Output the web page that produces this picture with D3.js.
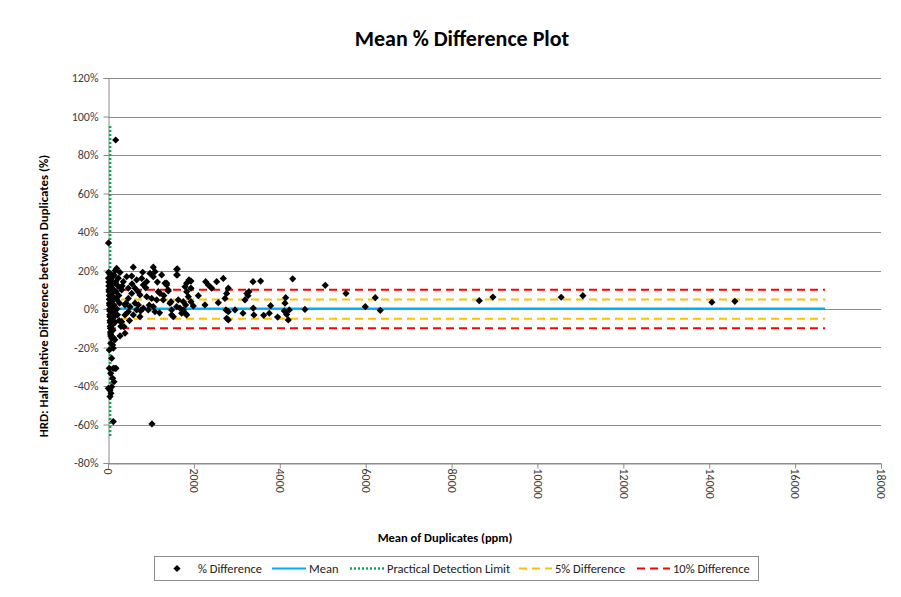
<!DOCTYPE html>
<html>
<head>
<meta charset="utf-8">
<script src="https://cdn.jsdelivr.net/npm/d3@7/dist/d3.min.js"></script>
<style>
  html, body { margin: 0; padding: 0; background: #fff; }
  svg { display: block; font-family: Carlito, Calibri, Lato, "Open Sans", sans-serif; }
</style>
</head>
<body>
<svg id="chart" width="901" height="597"></svg>
<script>
// Mean of duplicate pair (ppm)
const meanPpm = [
  179, 12, 123, 1024, 30, 109, 86, 30, 123, 186, 63, 140, 109, 7, 47, 70, 86, 47, 123, 280, 63, 123, 163,
  12, 20, 25, 30, 35, 40, 45, 50, 55, 60, 18, 22, 28, 33, 38, 42, 48, 52, 58, 65,
  70, 75, 80, 85, 90, 95, 100, 105, 110, 115, 120, 125, 130, 135, 140, 145, 150, 160,
  170, 180, 190, 200, 210, 220, 230, 240, 250, 260, 270, 280, 290, 300, 15, 65, 88, 160, 202, 140, 47,
  589, 1055, 1599, 1599, 808, 978, 1094, 1055, 901, 785, 822, 667, 629, 552, 435, 357, 318, 473, 552, 473,
  396, 512, 629, 667, 589, 473, 745, 396, 318, 372, 396, 1134, 1017, 1171, 1211, 1055, 1094, 938, 1287,
  1327, 1366, 1250, 1443, 1482, 1521, 745, 901, 822, 706,
  330, 420, 500, 560, 700, 760, 880, 960, 1150, 1200, 1300, 1400,
  1614, 1614, 1366, 1404, 1467, 1482, 1599, 1676, 1715, 1637, 1793, 1832, 1886, 1932, 1870, 1932, 1808,
  1754, 1832, 2103, 2258, 2274, 2335, 2414, 2530, 2685, 2801, 2763, 2724, 2747, 2763, 2957, 1932, 1832,
  1754, 1816, 1986, 2568, 2801, 2801,
  3143, 3189, 3236, 3282, 3260, 3376, 3554, 3383, 3399, 3625, 3756, 3787, 3950, 4105, 4137, 4121, 4160,
  4198, 4221, 4300, 4586,
  5059, 5541, 5991, 6224, 6340, 8645, 8963, 10553, 11058, 14061, 14597
];

// Half relative difference of each pair (%)
const pctDiff = [
  87.8, 34.3, -58.5, -59.7, -21.3, -18.7, -25.6, -30.8, -30.8, -30.8, -33.4, -37.8, -36.0, -41.2, -42.1, -43.8, -40.4, -45.5, -14.9, -14.0, -17.8, -20.4, -30.8,
  16, 12, 9, 5, 2, -1, -4, -7, -10, -13, 14, 10, 7, 3, 0, -3, -6, -9, -12, -14,
  18, 15, 11, 8, 4, 1, -2, -5, -8, -11, 17, 13, 10, 6, 2, -1, -4, -7,
  20, 14, 9, 5, 0, -3, 12, 16, 7, -6, 3, 19, 11, -9, 19, 0, -15, -16, 21.1, 17.7, 18,
  21.7, 21.7, 20.6, 17.7, 19.1, 18.5, 19.4, 16.8, 14.2, 15.9, 12.5, 15.1, 10.8, 17.1, 16.8, 14.2, 9.9, 10.8, 8.1, 5.5,
  2.1, 1.2, 3.0, -0.5, -3.1, -1.4, -4.0, -3.1, -6.6, -9.2, -12.6, 4.7, 5.5, 9.0, 8.1, 1.2, -1.4, -0.5, 4.7,
  13.4, 12.5, 17.7, 3.0, -0.5, -4.0, 7.3, 6.4, 0.4, 2.1,
  12, 3, -6, 13, 9, -1, 11, 2, 14, -2, 7, 10,
  20.8, 17.7, 13.4, 9.4, 3.8, -3.1, 1.2, 0.4, -2.2, 4.7, 11.6, 13.4, 15.1, 10.8, 6.4, 3.8, 2.1,
  -0.5, -3.1, 6.9, 2.1, 14.2, 12.5, 10.8, 14.2, 15.9, 10.8, 8.1, 5.5, -0.5, -4.8, -0.5, 14.5, 9.0,
  3.8, -2.6, 1.6, 3.3, -1.4, -5.7,
  -2.2, 4.7, 8.1, 9.0, 6.9, 14.2, 14.5, 0.4, -3.1, -3.3, -2.2, 1.7, -4.2, -1.0, 5.9, 3.0, -2.8,
  -5.7, -0.5, 15.7, -0.2,
  12.3, 8.1, 1.2, 5.9, -0.7, 4.3, 6.2, 6.1, 6.9, 3.5, 4.0
];

// Reference lines
const meanValue = 0.2;                 // mean % difference
const refLineExtent = [0, 16700];      // x-extent of horizontal reference lines (ppm)
const detectionLimit = 50;             // practical detection limit (ppm)
const detectionLimitSpan = [-66, 96];  // vertical extent of the detection-limit line (%)
const diffLevels5 = [5, -5];
const diffLevels10 = [10, -10];

const xTicks = [0, 2000, 4000, 6000, 8000, 10000, 12000, 14000, 16000, 18000];
const yTicks = [-80, -60, -40, -20, 0, 20, 40, 60, 80, 100, 120];

const legendLabels = ["% Difference", "Mean", "Practical Detection Limit", "5% Difference", "10% Difference"];

const colors = {
  point: "#000000",
  mean: "#00B0F0",
  pdl: "#00B050",
  five: "#FFC000",
  ten: "#FF0000",
  grid: "#8C8C8C",
  axis: "#8C8C8C",
  tick: "#404040"
};

const svg = d3.select("#chart");
const plot = { left: 108, right: 881, top: 78, bottom: 463 };

const x = d3.scaleLinear().domain([0, 18000]).range([plot.left, plot.right]);
const y = d3.scaleLinear().domain([-80, 120]).range([plot.bottom, plot.top]);

// Title
svg.append("text")
  .attr("x", 462).attr("y", 46)
  .attr("text-anchor", "middle")
  .attr("font-size", 22).attr("font-weight", "bold")
  .attr("fill", "#000")
  .text("Mean % Difference Plot");

// Horizontal gridlines
svg.append("g")
  .selectAll("line")
  .data(yTicks)
  .join("line")
  .attr("x1", plot.left).attr("x2", plot.right)
  .attr("y1", d => Math.round(y(d)) + 0.5).attr("y2", d => Math.round(y(d)) + 0.5)
  .attr("stroke", colors.grid).attr("stroke-width", 1);

// Y axis
const yAxis = svg.append("g")
  .attr("transform", `translate(${plot.left + 0.5},0)`)
  .call(d3.axisLeft(y).tickValues(yTicks).tickSize(5).tickPadding(5).tickFormat(d => d + "%"));
yAxis.select(".domain").attr("stroke", colors.axis);
yAxis.selectAll(".tick line").attr("stroke", colors.axis);
yAxis.selectAll(".tick text")
  .attr("fill", colors.tick).attr("font-size", 12)
  .attr("font-family", "Carlito, Calibri, Lato, sans-serif");

// X axis with vertical tick labels
const xAxis = svg.append("g")
  .attr("transform", `translate(0,${plot.bottom + 0.5})`)
  .call(d3.axisBottom(x).tickValues(xTicks).tickSize(5).tickFormat(d => String(d)));
xAxis.select(".domain").attr("stroke", colors.axis);
xAxis.selectAll(".tick line").attr("stroke", colors.axis);
xAxis.selectAll(".tick text")
  .attr("fill", colors.tick).attr("font-size", 12)
  .attr("font-family", "Carlito, Calibri, Lato, sans-serif")
  .attr("text-anchor", "start")
  .attr("transform", "rotate(90)")
  .attr("x", 5).attr("y", 0).attr("dy", "0.35em");

// Axis titles
svg.append("text")
  .attr("x", 445).attr("y", 542)
  .attr("text-anchor", "middle")
  .attr("font-size", 12.5).attr("font-weight", "bold")
  .text("Mean of Duplicates (ppm)");

svg.append("text")
  .attr("transform", "translate(48,296) rotate(-90)")
  .attr("text-anchor", "middle")
  .attr("font-size", 12.8).attr("font-weight", "bold")
  .text("HRD: Half Relative Difference between Duplicates (%)");

// Reference lines
const refs = svg.append("g");
function hLine(v, color, dash) {
  refs.append("line")
    .attr("x1", x(refLineExtent[0])).attr("x2", x(refLineExtent[1]))
    .attr("y1", y(v)).attr("y2", y(v))
    .attr("stroke", color).attr("stroke-width", 2)
    .attr("stroke-dasharray", dash);
}
diffLevels10.forEach(v => hLine(v, colors.ten, "8,5"));
diffLevels5.forEach(v => hLine(v, colors.five, "8,5"));
hLine(meanValue, colors.mean, null);

refs.append("line")
  .attr("x1", x(detectionLimit)).attr("x2", x(detectionLimit))
  .attr("y1", y(detectionLimitSpan[0])).attr("y2", y(detectionLimitSpan[1]))
  .attr("stroke", colors.pdl).attr("stroke-width", 2.5)
  .attr("stroke-dasharray", "2,2");

// Data points as diamonds
const diamond = d3.symbol().type(d3.symbolSquare).size(26);
const points = meanPpm.map((m, i) => ({ m, p: pctDiff[i] }));
svg.append("g")
  .selectAll("path")
  .data(points)
  .join("path")
  .attr("d", diamond)
  .attr("transform", d => `translate(${x(d.m)},${y(d.p)}) rotate(45)`)
  .attr("fill", colors.point);

// Legend
const legend = svg.append("g");
legend.append("rect")
  .attr("x", 154.5).attr("y", 556.5).attr("width", 604).attr("height", 24)
  .attr("fill", "#fff").attr("stroke", "#8C8C8C");

const ly = 568.5;
const legendItems = [
  { kind: "point", x0: 177, tx: 198 },
  { kind: "line", color: colors.mean, dash: null, x0: 272, x1: 306, tx: 309, w: 2 },
  { kind: "line", color: colors.pdl, dash: "2,2", x0: 350, x1: 384, tx: 387, w: 2.5 },
  { kind: "line", color: colors.five, dash: "8,5", x0: 519, x1: 552, tx: 555, w: 2 },
  { kind: "line", color: colors.ten, dash: "8,5", x0: 637, x1: 670, tx: 673, w: 2 }
];
legendItems.forEach((it, i) => {
  if (it.kind === "point") {
    legend.append("path").attr("d", diamond)
      .attr("transform", `translate(${it.x0},${ly}) rotate(45)`)
      .attr("fill", colors.point);
  } else {
    legend.append("line")
      .attr("x1", it.x0).attr("x2", it.x1).attr("y1", ly).attr("y2", ly)
      .attr("stroke", it.color).attr("stroke-width", it.w)
      .attr("stroke-dasharray", it.dash);
  }
  legend.append("text")
    .attr("x", it.tx).attr("y", ly + 4)
    .attr("font-size", 12.5).attr("fill", "#222")
    .text(legendLabels[i]);
});
</script>
</body>
</html>
